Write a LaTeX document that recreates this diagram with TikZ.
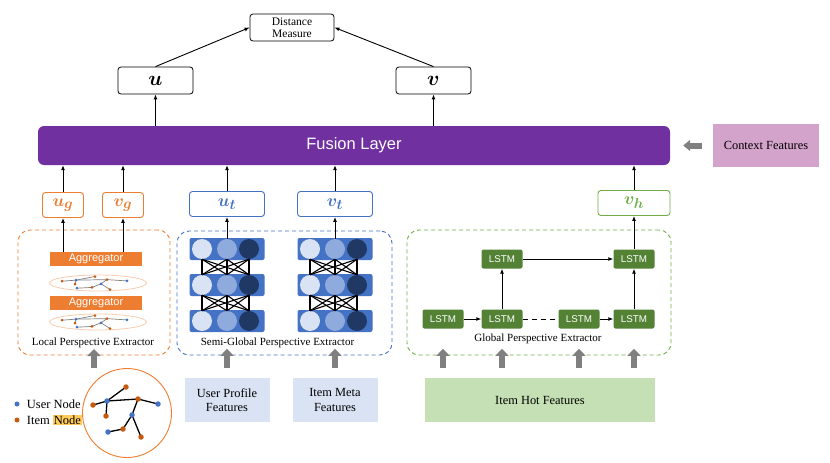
\documentclass[tikz,border=0pt]{standalone}
\usepackage{fontspec}
\setmainfont{Liberation Serif}
\setsansfont{Liberation Sans}
\usepackage{bm}
\usetikzlibrary{arrows.meta, positioning, shapes.geometric}
\definecolor{fusionpurple}{HTML}{7030A0}
\definecolor{contextpink}{HTML}{D4A3CB}
\definecolor{localorange}{HTML}{ED7D31}
\definecolor{ringorange}{HTML}{F8CBAD}
\definecolor{itemorange}{HTML}{C55A11}
\definecolor{userblue}{HTML}{4472C4}
\definecolor{semiblue}{HTML}{4472C4}
\definecolor{paleblue}{HTML}{DAE3F3}
\definecolor{midblue}{HTML}{8FAADC}
\definecolor{darkblue}{HTML}{203864}
\definecolor{globalgreen}{HTML}{70AD47}
\definecolor{lstmgreen}{HTML}{548235}
\definecolor{palegreen}{HTML}{C5E0B4}
\definecolor{feedgray}{HTML}{808080}
\definecolor{highlight}{HTML}{FFCC5C}
\newcommand*{\vu}{\bm{u}}
\newcommand*{\vv}{\bm{v}}
\newcommand*{\nodegraph}[2]{%
    \foreach \n/\x/\y in {1/126/387, 2/107/401, 3/93/405, 4/138/399, 5/158/404,
                          6/106/416, 7/132/415, 8/123/429, 9/108/432, 10/141/437}
        \coordinate (g\n) at (\x,\y);
    \foreach \a/\b in {2/1, 2/3, 2/4, 4/5, 2/6, 4/7, 7/8, 8/9, 7/10}
        \draw [#2] (g\a) -- (g\b);
    \foreach \n/\c in {1/itemorange, 2/userblue, 3/itemorange, 4/itemorange, 5/userblue,
                       6/itemorange, 7/userblue, 8/itemorange, 9/userblue, 10/itemorange}
        \node (d\n) [graphdot, minimum size=#1, fill=\c] at (g\n) {};
}
\tikzstyle{block} = [rectangle, rounded corners=3pt, inner sep=0pt, align=center]
\tikzstyle{vector} = [draw, block, line width=0.8pt, minimum width=75pt, minimum height=27pt, font=\fontsize{20}{22}\selectfont]
\tikzstyle{subvector} = [draw, block, line width=0.9pt, minimum height=25pt, font=\fontsize{19}{21}\selectfont]
\tikzstyle{flow} = [-{Latex[length=5pt, width=4pt]}, line width=0.9pt]
\tikzstyle{feed} = [-{Triangle[length=7pt, width=13pt]}, line width=6pt, draw=feedgray]
\tikzstyle{extractor} = [draw, rectangle, rounded corners=12pt, line width=0.9pt, dash pattern=on 4pt off 3pt]
\tikzstyle{caption} = [font=\fontsize{11}{13}\selectfont]
\tikzstyle{feature} = [block, rounded corners=0pt, minimum height=44pt, font=\fontsize{12.4}{14.5}\selectfont]
\tikzstyle{lstm} = [block, rounded corners=2pt, fill=lstmgreen, text=white, minimum width=41pt, minimum height=19pt, font=\sffamily\fontsize{9.8}{11}\selectfont]
\tikzstyle{aggregator} = [block, rounded corners=0pt, fill=localorange, text=white, minimum width=92pt, minimum height=14pt, font=\sffamily\fontsize{11}{12}\selectfont]
\tikzstyle{nnlayer} = [block, rounded corners=2pt, fill=semiblue, minimum width=75pt, minimum height=22pt]
\tikzstyle{neuron} = [circle, inner sep=0pt, minimum size=20pt]
\tikzstyle{graphdot} = [circle, inner sep=0pt, minimum size=5pt]
\tikzstyle{legend} = [font=\fontsize{12.5}{14}\selectfont, inner sep=0pt, anchor=west]

\begin{document}
\begin{tikzpicture}[x=1pt, y=-1pt]
    \useasboundingbox (0,0) rectangle (830,463);

    % Top: distance and final vectors.
    \node (dist) [draw, block, line width=0.8pt, minimum width=84pt, minimum height=27pt, font=\fontsize{11.5}{12}\selectfont] at (292,27.5) {Distance\\Measure};
    \node (u) [vector] at (155.5,80.5) {$\vu$};
    \node (v) [vector] at (433.5,80.5) {$\vv$};
    \draw [flow] (u.north) -- (dist.west);
    \draw [flow] (v.north) -- (dist.east);

    % Fusion and context.
    \node (fusion) [block, rounded corners=6pt, fill=fusionpurple, text=white, minimum width=632pt, minimum height=39pt, font=\sffamily\fontsize{16.5}{18}\selectfont] at (354,145.5) {Fusion Layer};
    \node (context) [feature, fill=contextpink, minimum width=106pt, minimum height=43pt] at (766,145.5) {Context Features};
    \draw [feed, -{Triangle[length=7pt, width=11pt]}, shorten <=11pt, shorten >=13pt] (context.west) -- (fusion.east |- context.west);
    \draw [flow] (fusion.north -| u.south) -- (u.south);
    \draw [flow] (fusion.north -| v.south) -- (v.south);

    % Perspective vectors.
    \node (ug) [subvector, draw=localorange, text=localorange, minimum width=41pt] at (63,205) {$\bm{u_g}$};
    \node (vg) [subvector, draw=localorange, text=localorange, minimum width=41pt] at (123,205) {$\bm{v_g}$};
    \node (ut) [subvector, draw=semiblue, text=semiblue, minimum width=75pt] at (227,204) {$\bm{u_t}$};
    \node (vt) [subvector, draw=semiblue, text=semiblue, minimum width=75pt] at (335,204) {$\bm{v_t}$};
    \node (vh) [subvector, draw=globalgreen, text=globalgreen, minimum width=72pt] at (634,203) {$\bm{v_h}$};
    \foreach \vec in {ug, vg, ut, vt, vh} {
        \draw [flow] (\vec.north) -- (\vec.north |- fusion.south);
    }

    % Local perspective extractor.
    \node (localbox) [extractor, draw=localorange, minimum width=152pt, minimum height=125pt] at (94,292.5) {};
    \node (agg1) [aggregator] at (96,259) {Aggregator};
    \node (agg2) [aggregator] at (96,302.5) {Aggregator};
    \node (ring1) [ellipse, draw=ringorange, line width=0.8pt, minimum width=97pt, minimum height=16pt] at (98,283) {};
    \node (ring2) [ellipse, draw=ringorange, line width=0.8pt, minimum width=97pt, minimum height=16pt] at (98,322) {};
    \begin{scope}[shift={(96,283)}, yscale=0.26, shift={(-127,-412)}, name prefix=ring1-]
        \nodegraph{3pt}{gray, line width=0.7pt}
    \end{scope}
    \begin{scope}[shift={(96,322)}, yscale=0.26, shift={(-127,-412)}, name prefix=ring2-]
        \nodegraph{3pt}{gray, line width=0.7pt}
    \end{scope}
    \draw [flow] (agg1.north -| ug) -- (ug.south);
    \draw [flow] (agg1.north -| vg) -- (vg.south);
    \node (localcap) [caption] at (93,343) {Local Perspective Extractor};

    % Semi-global perspective extractor.
    \node (semibox) [extractor, draw=semiblue, minimum width=215pt, minimum height=124pt] at (284.5,293) {};
    \foreach \s/\cx in {1/227, 2/335} {
        \foreach \l/\cy in {1/249, 2/285, 3/321} {
            \node (layer\s\l) [nnlayer] at (\cx,\cy) {};
            \foreach \n/\dx/\shade in {1/-25/paleblue, 2/0/midblue, 3/22/darkblue}
                \node (neuron\s\l\n) [neuron, fill=\shade] at (\cx+\dx,\cy) {};
        }
        \foreach \l/\m in {1/2, 2/3}
            \foreach \i in {1,2,3}
                \foreach \j in {1,2,3}
                    \draw [line width=1.1pt] (neuron\s\l\i.south) -- (neuron\s\m\j.north);
    }
    \draw [flow] (neuron112.north) -- (ut.south);
    \draw [flow] (neuron212.north) -- (vt.south);
    \node (semicap) [caption] at (277.5,343) {Semi-Global Perspective Extractor};

    % Global perspective extractor.
    \node (globalbox) [extractor, draw=globalgreen, minimum width=264pt, minimum height=125pt] at (539,292.5) {};
    \node (top1) [lstm] at (502,259) {LSTM};
    \node (top2) [lstm] at (634,259) {LSTM};
    \foreach \i/\x in {1/443, 2/502, 3/579, 4/634} {
        \node (bottom\i) [lstm] at (\x,319) {LSTM};
    }
    \draw [flow] (bottom1) -- (bottom2);
    \draw [line width=0.9pt, dash pattern=on 5pt off 4pt] (bottom2) -- (bottom3);
    \draw [flow] (bottom3) -- (bottom4);
    \draw [flow] (bottom2) -- (top1);
    \draw [flow] (bottom4) -- (top2);
    \draw [flow] (top1) -- (top2);
    \draw [flow] (top2) -- (vh.south);
    \node (globalcap) [caption] at (538,339) {Global Perspective Extractor};

    % Input features.
    \node (profile) [feature, fill=paleblue, minimum width=85pt] at (227,400) {User Profile\\Features};
    \node (meta) [feature, fill=paleblue, minimum width=85pt] at (335,400) {Item Meta\\Features};
    \node (hot) [feature, fill=palegreen, minimum width=230pt] at (540,400) {Item Hot Features};
    \draw [feed, shorten <=10pt] (profile.north) -- ++(0,-29);
    \draw [feed, shorten <=10pt] (meta.north) -- ++(0,-29);
    \foreach \i in {1, ..., 4} {
        \draw [feed, shorten <=10pt] (hot.north -| bottom\i) -- ++(0,-29);
    }
    \coordinate (localfeed) at (94,368);
    \draw [feed] (localfeed) -- ++(0,-19);

    % Graph and legend.
    \node (graphring) [circle, draw=localorange, line width=0.9pt, minimum size=89pt, inner sep=0pt] at (127,413) {};
    \nodegraph{5.5pt}{line width=1.3pt}
    \node (userdot) [graphdot, fill=userblue] at (17,404) {};
    \node (itemdot) [graphdot, fill=itemorange] at (17,420) {};
    \node (usertext) [legend, right=7pt of userdot] {User Node};
    \node (itemtext) [legend, right=7pt of itemdot] {\setlength{\fboxsep}{1pt}Item \colorbox{highlight}{Node}};
\end{tikzpicture}
\end{document}
